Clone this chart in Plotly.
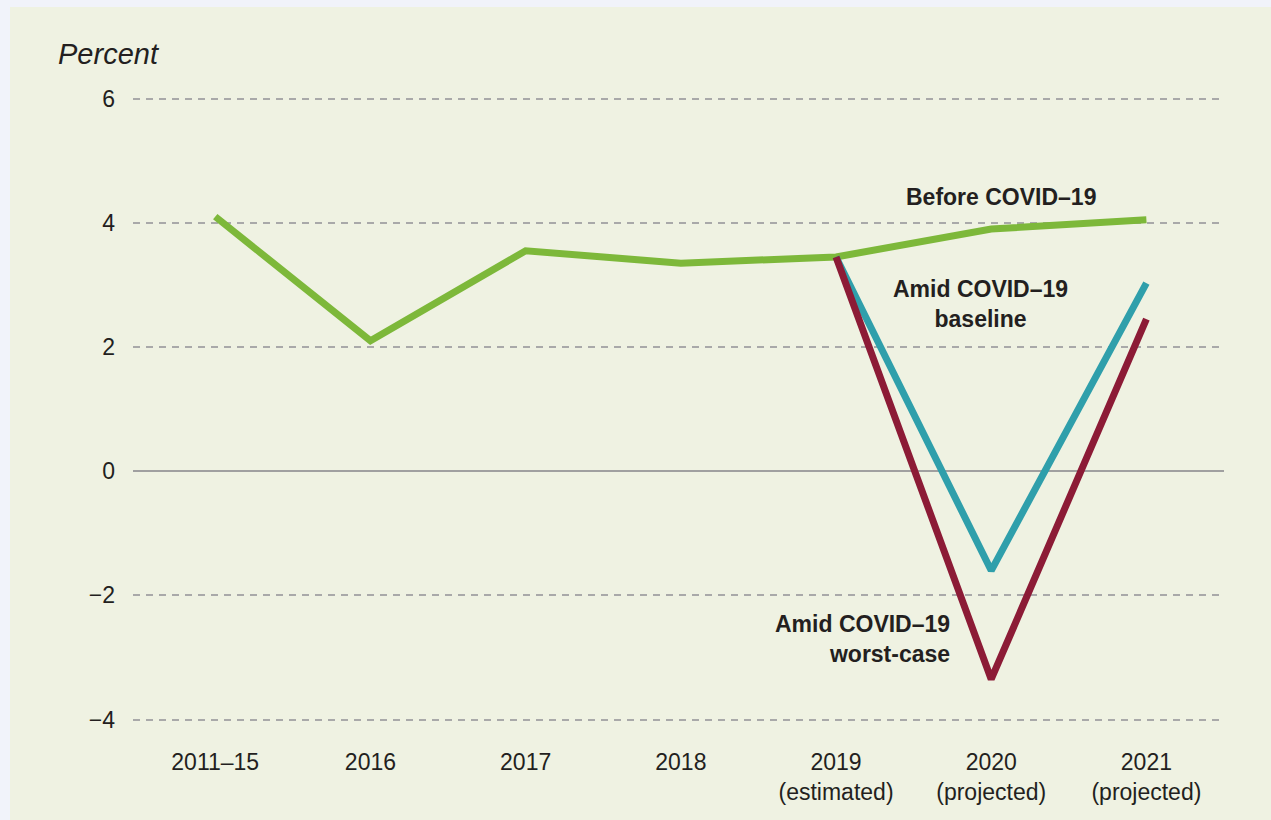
import plotly.graph_objects as go

categories = ["2011–15", "2016", "2017", "2018", "2019<br>(estimated)", "2020<br>(projected)", "2021<br>(projected)"]
before_covid = [4.1, 2.1, 3.55, 3.35, 3.45, 3.9, 4.05]
baseline_cats = ["2019<br>(estimated)", "2020<br>(projected)", "2021<br>(projected)"]
baseline_vals = [3.45, -1.6, 3.03]
worst_vals = [3.45, -3.35, 2.45]
ytick_vals = [-4, -2, 0, 2, 4, 6]
ytick_text = ["−4", "−2", "0", "2", "4", "6"]

FONT = "Liberation Sans, Arial, Helvetica, sans-serif"
TXT = "#231f20"

fig = go.Figure()
fig.add_trace(go.Scatter(x=categories, y=before_covid, mode="lines",
                         line=dict(color="#7db83a", width=7), hoverinfo="skip"))
fig.add_trace(go.Scatter(x=baseline_cats, y=baseline_vals, mode="lines",
                         line=dict(color="#2f9fab", width=7), hoverinfo="skip"))
fig.add_trace(go.Scatter(x=baseline_cats, y=worst_vals, mode="lines",
                         line=dict(color="#8c1b36", width=7), hoverinfo="skip"))

W, H = 1271, 820
L, R, T, B = 133, 47, 80, 88
pw = W - L - R
ph = H - T - B

def px_x(p):
    return (p - L) / pw

def px_y(p):
    return 1 - (p - T) / ph

shapes = [
    dict(type="rect", xref="paper", yref="paper", x0=px_x(-5), x1=px_x(W + 5), y0=px_y(H + 5), y1=px_y(-5),
         fillcolor="#f1f3fa", line=dict(width=0), layer="below"),
    dict(type="rect", xref="paper", yref="paper", x0=px_x(10), x1=px_x(W + 5), y0=px_y(H + 5), y1=px_y(7),
         fillcolor="#eff2e2", line=dict(width=0), layer="below"),
]

annotations = [
    dict(text="<i>Percent</i>", xref="paper", yref="paper", x=px_x(56), y=px_y(54),
         xanchor="left", yanchor="middle", showarrow=False, font=dict(size=29, color=TXT, family=FONT)),
    dict(text="<b>Before COVID–19</b>", x=5.06, y=4.42, xref="x", yref="y", showarrow=False,
         xanchor="center", yanchor="middle", font=dict(size=23, color=TXT, family=FONT)),
    dict(text="<b>Amid COVID–19<br>baseline</b>", x=4.93, y=2.69, xref="x", yref="y", showarrow=False,
         xanchor="center", yanchor="middle", align="center", font=dict(size=23, color=TXT, family=FONT)),
    dict(text="<b>Amid COVID–19<br>worst-case</b>", x=4.75, y=-2.71, xref="x", yref="y", showarrow=False,
         xanchor="right", yanchor="middle", align="right", font=dict(size=23, color=TXT, family=FONT)),
]

fig.update_layout(
    width=W, height=H,
    margin=dict(l=L, r=R, t=T, b=B),
    paper_bgcolor="#eff2e2",
    plot_bgcolor="rgba(0,0,0,0)",
    showlegend=False,
    shapes=shapes,
    annotations=annotations,
    font=dict(family=FONT, color=TXT, size=23),
)
fig.update_xaxes(
    type="category", range=[-0.53, 6.5], showgrid=False, zeroline=False, showline=False,
    ticks="", tickfont=dict(size=23, color=TXT, family=FONT), ticklabelstandoff=14,
)
fig.update_yaxes(
    range=[-4.2, 6.3], tickvals=ytick_vals, ticktext=ytick_text,
    showgrid=True, gridcolor="#a9a9a9", gridwidth=2, griddash="7px,6px",
    zeroline=True, zerolinecolor="#a0a0a0", zerolinewidth=1.5,
    showline=False, ticks="", tickfont=dict(size=23, color=TXT, family=FONT), ticklabelstandoff=17,
)

fig.write_html("out.html", config={"displayModeBar": False},
               post_script="document.body.style.margin='0';document.body.style.overflow='hidden';")
